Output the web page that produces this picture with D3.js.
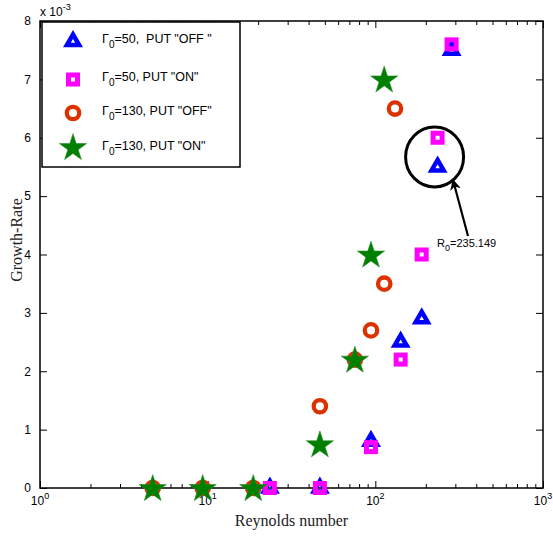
<!DOCTYPE html>
<html><head><meta charset="utf-8">
<script src="https://cdn.jsdelivr.net/npm/d3@7"></script>
<style>
body{margin:0;background:#fff;}
</style></head>
<body><svg id="c" width="553" height="538" font-family="Liberation Sans, Arial, sans-serif"></svg>
<script>
// Data (growth rate in units of 1e-3)
const reG50 = [23.5, 46.7, 94.2, 141.6, 189, 235.149, 285];
const g50Off = [0, 0, 0.8, 2.5, 2.9, 5.5, 7.5];
const g50On  = [0, 0, 0.7, 2.2, 4.0, 6.0, 7.6];
const reG130Off = [4.7, 9.34, 18.7, 46.7, 75.5, 94.2, 113, 131];
const g130Off   = [0, 0, 0, 1.4, 2.2, 2.7, 3.5, 6.5];
const reG130On  = [4.7, 9.34, 18.7, 46.7, 75.5, 94.2, 113];
const g130On    = [0, 0, 0, 0.75, 2.2, 4.0, 7.0];
const xMajor = [1, 10, 100, 1000];
const xExp = ["0", "1", "2", "3"];
const yTicks = [0,1,2,3,4,5,6,7,8];
const legendLabels = [["50", ",  PUT \"OFF \""], ["50", ", PUT \"ON\""], ["130", ", PUT \"OFF\""], ["130", ", PUT \"ON\""]];
const R0 = 235.149, R0g = 5.5;

const svg = d3.select("#c");
const L=40, R=543, T=21, B=488;
const x = d3.scaleLog().domain([1,1000]).range([L,R]);
const y = d3.scaleLinear().domain([0,8]).range([B,T]);

const BLUE="#0000ff", MAG="#ff00ff", RED="#dc3200", GREEN="#008000";
const SANS="Liberation Sans, Arial, sans-serif", SERIF="Liberation Serif, Times New Roman, serif";

// frame
svg.append("rect").attr("x",L).attr("y",T).attr("width",R-L).attr("height",B-T)
  .attr("fill","none").attr("stroke","#000").attr("stroke-width",1.5);

// axes
const minor = x.ticks().filter(v=>!xMajor.includes(v));
const gx = svg.append("g").attr("transform",`translate(0,${B})`)
  .call(d3.axisBottom(x).tickValues(minor).tickSize(-4).tickFormat(""));
const gx2 = svg.append("g").attr("transform",`translate(0,${B})`)
  .call(d3.axisBottom(x).tickValues(xMajor).tickSize(-7).tickFormat(""));
const gxt = svg.append("g").attr("transform",`translate(0,${T})`)
  .call(d3.axisTop(x).tickValues(minor).tickSize(-4).tickFormat(""));
const gxt2 = svg.append("g").attr("transform",`translate(0,${T})`)
  .call(d3.axisTop(x).tickValues(xMajor).tickSize(-7).tickFormat(""));
const gy = svg.append("g").attr("transform",`translate(${L},0)`)
  .call(d3.axisLeft(y).tickValues(yTicks).tickSize(-7).tickPadding(9).tickFormat(d3.format("d")));
const gy2 = svg.append("g").attr("transform",`translate(${R},0)`)
  .call(d3.axisRight(y).tickValues(yTicks).tickSize(-7).tickFormat(""));
[gx,gx2,gxt,gxt2,gy,gy2].forEach(g=>{g.attr("font-family",SANS); g.select(".domain").remove(); g.selectAll("line").attr("stroke","#000").attr("stroke-width",1);});
gy.attr("font-size",12).selectAll("text").attr("fill","#000");

// x tick labels 10^n
xMajor.forEach((v,i)=>{
  const t = svg.append("text").attr("x",x(v)).attr("y",505).attr("text-anchor","middle")
    .attr("font-size",12).attr("fill","#000");
  t.append("tspan").text("10");
  t.append("tspan").attr("dy",-6).attr("font-size",9).text(xExp[i]);
});
// exponent multiplier
const ex = svg.append("text").attr("x",L).attr("y",16).attr("font-size",12);
ex.append("tspan").text("x 10");
ex.append("tspan").attr("dy",-6).attr("font-size",9).text("-3");

// axis titles
svg.append("text").attr("x",(L+R)/2).attr("y",526).attr("text-anchor","middle")
  .style("font-family",SERIF).attr("font-size",16).attr("fill","#222").text("Reynolds number");
svg.append("text").attr("transform","translate(22,240) rotate(-90)").attr("text-anchor","middle")
  .style("font-family",SERIF).attr("font-size",16).attr("fill","#222").text("Growth-Rate");

// marker drawers
function tri(g,cx,cy){
  const s=12.2, h=s*Math.sqrt(3)/2;
  g.append("path").attr("d",`M${cx},${cy-2*h/3}L${cx+s/2},${cy+h/3}L${cx-s/2},${cy+h/3}Z`)
   .attr("fill","none").attr("stroke",BLUE).attr("stroke-width",4.5).attr("stroke-linejoin","miter");
}
function sq(g,cx,cy){
  g.append("rect").attr("x",cx-4.5).attr("y",cy-4.5).attr("width",9).attr("height",9)
   .attr("fill","none").attr("stroke",MAG).attr("stroke-width",5);
}
function circ(g,cx,cy){
  g.append("circle").attr("cx",cx).attr("cy",cy).attr("r",6.2)
   .attr("fill","none").attr("stroke",RED).attr("stroke-width",4.3);
}
const starPath = d3.symbol().type(d3.symbolStar).size(230)();
function star(g,cx,cy){
  g.append("path").attr("d",starPath).attr("transform",`translate(${cx},${cy+1})`)
   .attr("fill",GREEN).attr("stroke","#2a8a2a").attr("stroke-width",0.6);
}

const gp = svg.append("g");
reG50.forEach((r,i)=>tri(gp,x(r),y(g50Off[i])));
reG50.forEach((r,i)=>sq(gp,x(r),y(g50On[i])));
reG130Off.forEach((r,i)=>circ(gp,x(r),y(g130Off[i])));
reG130On.forEach((r,i)=>star(gp,x(r),y(g130On[i])));

// annotation
svg.append("ellipse").attr("cx",x(R0)-3).attr("cy",y(R0g)-10).attr("rx",29).attr("ry",30)
  .attr("fill","none").attr("stroke","#000").attr("stroke-width",3);
svg.append("defs").append("marker").attr("id","ah").attr("viewBox","0 0 10 10").attr("refX",9).attr("refY",5)
  .attr("markerWidth",5).attr("markerHeight",5).attr("orient","auto")
  .append("path").attr("d","M0,0L10,5L0,10L3,5Z").attr("fill","#000");
svg.append("line").attr("x1",468).attr("y1",236).attr("x2",453).attr("y2",180)
  .attr("stroke","#000").attr("stroke-width",2.2).attr("marker-end","url(#ah)");
const at = svg.append("text").attr("x",437).attr("y",247).attr("font-size",11);
at.append("tspan").text("R");
at.append("tspan").attr("dy",4).attr("font-size",9).text("0");
at.append("tspan").attr("dy",-4).text("=" + R0);

// legend
svg.append("rect").attr("x",42).attr("y",22).attr("width",198).attr("height",145)
  .attr("fill","#fff").attr("stroke","#000").attr("stroke-width",1.5);
const lg = svg.append("g");
const rowsY=[41.5,79.5,113,148];
tri(lg,73,rowsY[0]); sq(lg,73,rowsY[1]); circ(lg,73,rowsY[2]); star(lg,73,rowsY[3]-1);
legendLabels.forEach((lab,i)=>{
  const t = lg.append("text").attr("x",102).attr("y",rowsY[i]+1.5).attr("font-size",12.5);
  t.append("tspan").text("Γ");
  t.append("tspan").attr("dy",5).attr("font-size",10).text("0");
  t.append("tspan").attr("dy",-5).attr("xml:space","preserve").text("=" + lab[0] + lab[1]);
});
</script></body></html>
